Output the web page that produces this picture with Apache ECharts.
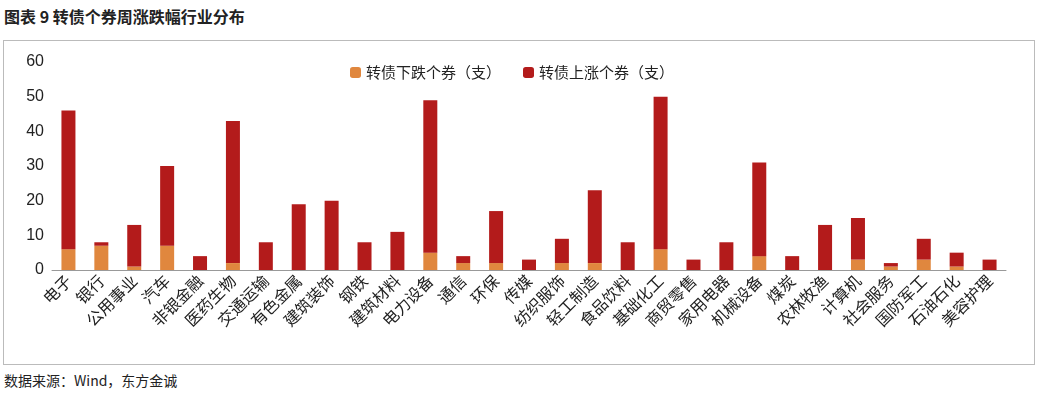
<!DOCTYPE html><html><head><meta charset="utf-8"><script src="https://cdn.jsdelivr.net/npm/echarts@6/dist/echarts.min.js"></script>
<style>body{margin:0;background:#fff;font-family:"Noto Sans CJK SC";}#t{position:absolute;left:4px;top:4px;font-size:16px;font-weight:bold;color:#222}#s{position:absolute;left:4px;top:370px;font-size:14px;color:#222}#box{position:absolute;left:3px;top:40px;width:1030px;height:323px;border:1px solid #bbb}#c{position:absolute;left:0;top:40px;width:1040px;height:325px}</style></head><body>
<div id="t">图表 9 转债个券周涨跌幅行业分布</div><div id="box"></div><div id="c"></div><div id="s">数据来源：Wind，东方金诚</div>
<script>
const categories=["电子","银行","公用事业","汽车","非银金融","医药生物","交通运输","有色金属","建筑装饰","钢铁","建筑材料","电力设备","通信","环保","传媒","纺织服饰","轻工制造","食品饮料","基础化工","商贸零售","家用电器","机械设备","煤炭","农林牧渔","计算机","社会服务","国防军工","石油石化","美容护理"];
const downCounts=[6,7,1,7,0,2,0,0,0,0,0,5,2,2,0,2,2,0,6,0,0,4,0,0,3,1,3,1,0];
const upCounts=[40,1,12,23,4,41,8,19,20,8,11,44,2,15,3,7,21,8,44,3,8,27,4,13,12,1,6,4,3];
const c=echarts.init(document.getElementById('c'));
c.setOption({animation:false,
legend:{top:20,left:345,itemWidth:11,itemHeight:11,itemGap:22,textStyle:{fontSize:15,color:'#222',fontFamily:'Noto Sans CJK SC'},data:['转债下跌个券（支）','转债上涨个券（支）']},
grid:{left:52,right:34,top:22,bottom:95},
xAxis:{type:'category',data:categories,axisTick:{show:false},axisLine:{lineStyle:{color:'#999'}},axisLabel:{rotate:45,interval:0,fontSize:16,color:'#222',fontFamily:'Noto Sans CJK SC'}},
yAxis:{type:'value',min:0,max:60,interval:10,splitLine:{show:false},axisLine:{show:false},axisTick:{show:false},axisLabel:{fontSize:16,color:'#222'}},
series:[{name:'转债下跌个券（支）',type:'bar',stack:'a',barWidth:14,data:downCounts,itemStyle:{color:'#E0873E'}},
{name:'转债上涨个券（支）',type:'bar',stack:'a',data:upCounts,itemStyle:{color:'#B31B1B'}}]});
</script></body></html>
